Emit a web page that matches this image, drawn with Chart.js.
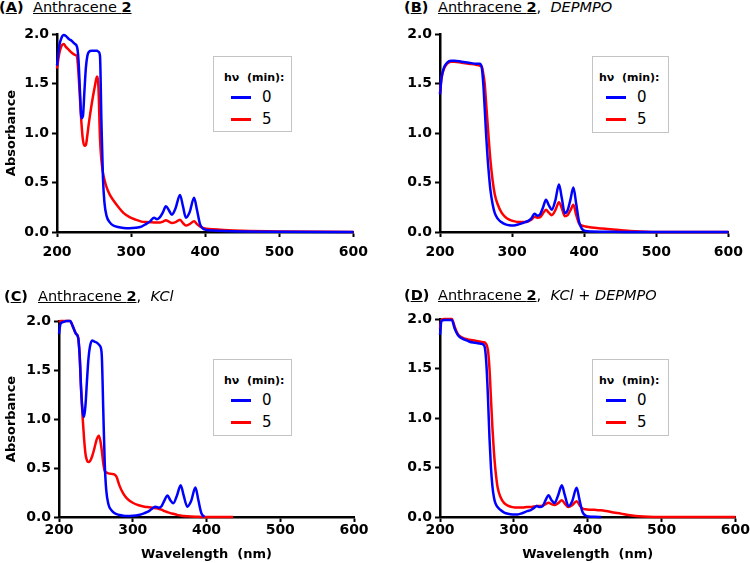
<!DOCTYPE html>
<html>
<head>
<meta charset="utf-8">
<script src="https://cdn.jsdelivr.net/npm/chart.js@4.4.1/dist/chart.umd.min.js"></script>
<style>
body { margin: 0; background: #fff; }
#fig { position: relative; width: 750px; height: 563px; overflow: hidden; font-family: 'DejaVu Sans', sans-serif; color: #000; }
#fig canvas { position: absolute; }
.ttl { position: absolute; font-size: 14.5px; line-height: 16px; white-space: pre; }
.lg { position: absolute; border: 1px solid #c4c4c4; background: #fff; box-sizing: border-box; }
.lg .hd { position: absolute; top: 14px; font-size: 11px; font-weight: bold; line-height: 13px; white-space: pre; }
.lg .sw { position: absolute; width: 20px; height: 3px; }
.lg .tx { position: absolute; font-size: 15px; line-height: 16px; }
</style>
</head>
<body>
<div id="fig">
    <canvas id="chA" width="375" height="260" style="left:0px;top:20px"></canvas>
    <canvas id="chB" width="375" height="260" style="left:375px;top:20px"></canvas>
    <canvas id="chC" width="375" height="263" style="left:0px;top:300px"></canvas>
    <canvas id="chD" width="375" height="263" style="left:375px;top:300px"></canvas>

    <span class="ttl" style="left:-1px;top:-1px"><b>(<u>A</u>)</b></span>
    <span class="ttl" style="left:33px;top:-1px"><u>Anthracene <b>2</b></u></span>
    <span class="ttl" style="left:404px;top:-1px"><b>(<u>B</u>)</b></span>
    <span class="ttl" style="left:438px;top:-1px"><u>Anthracene <b>2</b></u>,  <i>DEPMPO</i></span>
    <span class="ttl" style="left:4px;top:288px"><b>(<u>C</u>)</b></span>
    <span class="ttl" style="left:38px;top:288px"><u>Anthracene <b>2</b></u>,  <i>KCl</i></span>
    <span class="ttl" style="left:404px;top:287px"><b>(<u>D</u>)</b></span>
    <span class="ttl" style="left:438px;top:287px"><u>Anthracene <b>2</b></u>,  <i>KCl + DEPMPO</i></span>
</div>
<script>
// tick values and legend
var xTicks = [200, 300, 400, 500, 600];
var yTicks = [0, 0.5, 1.0, 1.5, 2.0];
var legendTitle = 'h\u03bd  (min):';
var seriesLabels = ['0', '5'];
var seriesColors = ['#0000ff', '#ff0000'];

// (A) Anthracene 2
var wlA = [200, 203, 206, 209, 212, 216, 220, 224, 227, 229, 231, 233, 235, 237, 239, 241, 243, 247, 251, 254,
    256, 258, 260, 262, 264, 267, 271, 276, 282, 290, 298, 306, 314, 320, 326, 331, 335, 339, 343, 347,
    351, 355, 360, 366, 370, 374, 379, 385, 389, 393, 397, 402, 410, 425, 450, 500, 600];
var absA0 = [1.68, 1.88, 1.96, 1.99, 1.98, 1.95, 1.93, 1.90, 1.87, 1.74, 1.42, 1.15, 1.17, 1.42, 1.66, 1.78, 1.82, 1.83, 1.83, 1.83,
    1.82, 1.78, 1.10, 0.55, 0.30, 0.16, 0.10, 0.065, 0.05, 0.04, 0.038, 0.042, 0.055, 0.08, 0.11, 0.145, 0.13, 0.15, 0.20, 0.26,
    0.22, 0.175, 0.24, 0.375, 0.26, 0.145, 0.20, 0.345, 0.22, 0.08, 0.035, 0.02, 0.015, 0.01, 0.006, 0.003, 0];
var absA5 = [1.65, 1.80, 1.88, 1.90, 1.87, 1.84, 1.81, 1.79, 1.77, 1.60, 1.35, 1.10, 0.93, 0.87, 0.88, 0.98, 1.10, 1.30, 1.47, 1.57,
    1.45, 0.95, 0.72, 0.60, 0.53, 0.45, 0.38, 0.32, 0.26, 0.19, 0.15, 0.125, 0.105, 0.10, 0.098, 0.097, 0.095, 0.095, 0.105, 0.118,
    0.105, 0.09, 0.10, 0.125, 0.09, 0.065, 0.08, 0.108, 0.08, 0.055, 0.04, 0.033, 0.027, 0.02, 0.012, 0.005, 0];

// (B) Anthracene 2, DEPMPO
var wlB = [200, 202, 205, 210, 215, 220, 230, 240, 250, 255, 258, 260, 262, 264, 266, 268, 270, 273, 276, 280,
    285, 290, 296, 302, 310, 318, 323, 327, 331, 335, 339, 343, 347, 351, 355, 360, 365, 369, 373, 377,
    381, 385, 389, 393, 397, 402, 410, 425, 440, 455, 470, 500, 600];
var absB0 = [1.39, 1.55, 1.65, 1.71, 1.73, 1.73, 1.72, 1.71, 1.70, 1.70, 1.66, 1.50, 1.25, 0.98, 0.75, 0.57, 0.42, 0.28, 0.19, 0.135,
    0.10, 0.08, 0.068, 0.066, 0.08, 0.10, 0.115, 0.14, 0.185, 0.165, 0.18, 0.25, 0.325, 0.27, 0.225, 0.32, 0.48, 0.34, 0.19, 0.22,
    0.33, 0.45, 0.28, 0.10, 0.03, 0.01, 0.005, 0.003, 0.002, 0.001, 0, 0, 0];
var absB5 = [1.40, 1.55, 1.64, 1.70, 1.72, 1.72, 1.71, 1.70, 1.69, 1.68, 1.67, 1.60, 1.50, 1.30, 1.10, 0.90, 0.72, 0.52, 0.38, 0.28,
    0.20, 0.155, 0.125, 0.11, 0.10, 0.10, 0.11, 0.125, 0.155, 0.145, 0.15, 0.19, 0.225, 0.195, 0.17, 0.22, 0.30, 0.24, 0.16, 0.17,
    0.22, 0.275, 0.17, 0.085, 0.065, 0.055, 0.045, 0.035, 0.025, 0.015, 0.007, 0, 0];

// (C) Anthracene 2, KCl
var wlC = [200, 202, 206, 210, 215, 219, 223, 226, 228, 230, 232, 234, 236, 238, 240, 242, 245, 248, 251, 254,
    256, 258, 260, 262, 264, 267, 271, 275, 278, 282, 287, 292, 300, 308, 316, 322, 327, 331, 335, 339,
    343, 347, 351, 355, 360, 365, 369, 374, 379, 385, 389, 393, 397, 410, 425, 436];
var absC0 = [1.87, 1.97, 1.99, 2.0, 2.0, 1.94, 1.87, 1.83, 1.65, 1.30, 1.08, 1.02, 1.15, 1.40, 1.62, 1.74, 1.80, 1.79, 1.78, 1.76,
    1.74, 1.65, 1.10, 0.55, 0.28, 0.13, 0.07, 0.04, 0.03, 0.02, 0.013, 0.01, 0.012, 0.02, 0.04, 0.06, 0.09, 0.105, 0.095, 0.11,
    0.17, 0.22, 0.17, 0.14, 0.22, 0.325, 0.22, 0.105, 0.16, 0.30, 0.17, 0.04, 0, null, null, null];
var absC5 = [1.99, 2.0, 2.0, 2.0, 2.0, 1.94, 1.87, 1.83, 1.65, 1.30, 1.02, 0.80, 0.64, 0.575, 0.56, 0.57, 0.62, 0.70, 0.79, 0.83,
    0.78, 0.68, 0.55, 0.47, 0.455, 0.445, 0.44, 0.435, 0.41, 0.32, 0.24, 0.19, 0.145, 0.12, 0.105, 0.10, 0.095, 0.09, 0.085, 0.075,
    0.06, 0.05, 0.04, 0.033, 0.022, 0.015, 0.01, 0.007, 0.005, 0.003, 0.002, 0.001, 0, 0, 0, 0];

// (D) Anthracene 2, KCl + DEPMPO
var wlD = [200, 202, 206, 210, 216, 220, 224, 228, 234, 240, 248, 255, 259, 261, 263, 265, 267, 269, 271, 273,
    275, 278, 282, 287, 292, 298, 305, 312, 318, 323, 327, 331, 335, 339, 343, 347, 351, 355, 360, 365,
    369, 374, 379, 385, 389, 393, 397, 402, 410, 418, 425, 435, 445, 455, 465, 475, 490, 600];
var absD0 = [1.84, 1.98, 1.99, 1.99, 1.99, 1.90, 1.84, 1.81, 1.79, 1.77, 1.76, 1.75, 1.74, 1.70, 1.52, 1.20, 0.80, 0.50, 0.31, 0.20,
    0.14, 0.10, 0.07, 0.045, 0.032, 0.025, 0.025, 0.04, 0.06, 0.07, 0.09, 0.11, 0.10, 0.11, 0.17, 0.22, 0.17, 0.14, 0.22, 0.32,
    0.22, 0.11, 0.16, 0.295, 0.17, 0.05, 0.015, 0.005, 0.002, 0, null, null, null, null, null, null, null, null];
var absD5 = [1.90, 1.99, 2.0, 2.0, 2.0, 1.92, 1.85, 1.82, 1.80, 1.79, 1.78, 1.77, 1.765, 1.76, 1.74, 1.68, 1.50, 1.20, 0.90, 0.66,
    0.48, 0.30, 0.20, 0.14, 0.115, 0.10, 0.095, 0.095, 0.10, 0.10, 0.105, 0.11, 0.11, 0.115, 0.13, 0.145, 0.13, 0.12, 0.14, 0.17,
    0.135, 0.10, 0.12, 0.16, 0.12, 0.085, 0.078, 0.074, 0.072, 0.068, 0.06, 0.046, 0.034, 0.02, 0.01, 0.004, 0.001, 0];

Chart.defaults.font.family = "'DejaVu Sans', sans-serif";
Chart.defaults.color = '#000';

function pts(wl, ys) {
    return wl.map(function(w, i) { return {x: w, y: ys[i]}; });
}

function lineSet(i, wl, ys) {
    return {
        label: seriesLabels[i],
        data: pts(wl, ys),
        borderColor: seriesColors[i],
        backgroundColor: seriesColors[i],
        borderWidth: 2.5,
        pointRadius: 0,
        fill: false,
        cubicInterpolationMode: 'monotone',
        spanGaps: false,
        clip: 4
    };
}

function drawPanel(id, wl, y0, y5, c) {
    new Chart(document.getElementById(id), {
        type: 'line',
        data: { datasets: [lineSet(0, wl, y0), lineSet(1, wl, y5)] },
        options: {
            responsive: false,
            animation: false,
            devicePixelRatio: 1,
            layout: { padding: { top: c.pt, right: c.pr, left: 0, bottom: 0 } },
            plugins: { legend: { display: false }, tooltip: { enabled: false } },
            scales: {
                x: {
                    type: 'linear', min: 200, max: 600,
                    afterBuildTicks: function(s) { s.ticks = xTicks.map(function(v) { return {value: v}; }); },
                    afterFit: function(s) { s.height = c.xh; },
                    border: { display: true, color: '#000', width: 2.5 },
                    grid: { drawOnChartArea: false, drawTicks: true, tickLength: 5, tickWidth: 2, tickColor: '#000' },
                    ticks: { color: '#000', font: { size: 14, weight: 'bold' }, padding: c.xpad, maxRotation: 0 },
                    title: { display: c.xtitle, text: 'Wavelength  (nm)', color: '#000',
                        font: { size: 13, weight: 'bold' }, padding: { top: 0, bottom: 1 } }
                },
                y: {
                    type: 'linear', min: 0, max: 2,
                    afterBuildTicks: function(s) { s.ticks = yTicks.map(function(v) { return {value: v}; }); },
                    afterFit: function(s) { s.width = c.yw; },
                    border: { display: true, color: '#000', width: 2.5 },
                    grid: { drawOnChartArea: false, drawTicks: true, tickLength: 5, tickWidth: 2, tickColor: '#000' },
                    ticks: { color: '#000', font: { size: 14, weight: 'bold' }, padding: 3,
                        callback: function(v) { return Number(v).toFixed(1); } },
                    title: { display: c.ytitle, text: 'Absorbance', color: '#000',
                        font: { size: 13, weight: 'bold' }, padding: { top: 4, bottom: 0 } }
                }
            }
        }
    });
}

function legendBox(left, top, w, h, hx) {
    var box = document.createElement('div');
    box.className = 'lg';
    box.style.left = left + 'px';
    box.style.top = top + 'px';
    box.style.width = w + 'px';
    box.style.height = h + 'px';
    var html = '<div class="hd" style="left:' + hx + 'px">' + legendTitle + '</div>';
    for (var i = 0; i < seriesLabels.length; i++) {
        var yy = 40 + i * 22;
        html += '<div class="sw" style="left:' + (hx + 7) + 'px;top:' + (yy - 1) + 'px;background:' + seriesColors[i] + '"></div>';
        html += '<div class="tx" style="left:' + (hx + 38) + 'px;top:' + (yy - 8) + 'px">' + seriesLabels[i] + '</div>';
    }
    box.innerHTML = html;
    document.getElementById('fig').appendChild(box);
}

drawPanel('chA', wlA, absA0, absA5, { pt: 14, pr: 21, yw: 57, xh: 48, xpad: 7, xtitle: false, ytitle: true });
drawPanel('chB', wlB, absB0, absB5, { pt: 14, pr: 13, yw: 65, xh: 48, xpad: 7, xtitle: false, ytitle: false });
drawPanel('chC', wlC, absC0, absC5, { pt: 21, pr: 21, yw: 59, xh: 46, xpad: 0, xtitle: true, ytitle: true });
drawPanel('chD', wlD, absD0, absD5, { pt: 19, pr: 14, yw: 65, xh: 46, xpad: 0, xtitle: true, ytitle: false });

legendBox(213, 56, 79, 76, 10);
legendBox(592, 56, 77, 77, 6);
legendBox(213, 359, 79, 77, 10);
legendBox(592, 359, 77, 77, 6);
</script>
</body>
</html>
